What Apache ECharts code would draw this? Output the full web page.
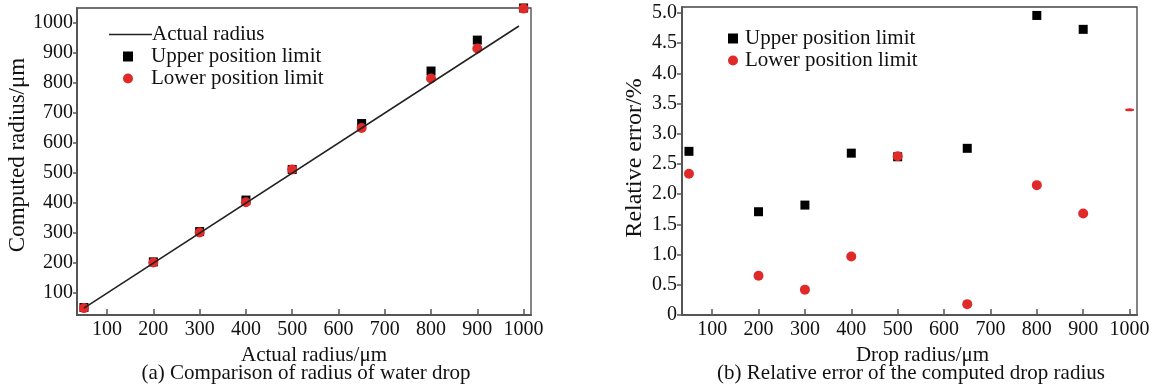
<!DOCTYPE html>
<html><head><meta charset="utf-8">
<script src="https://cdn.jsdelivr.net/npm/echarts@6/dist/echarts.min.js"></script>
<style>html,body{margin:0;padding:0;background:#fff}#c{width:1158px;height:387px}</style>
</head><body><div id="c"></div>
<script>
// ---- data ----
const radii = [50, 200, 300, 400, 500, 650, 800, 900, 1000];
const computedUpper = [52, 204, 305, 410, 512, 665, 840, 943, 1050];
const computedLower = [50, 202, 302, 403, 512, 650, 815, 915, 1048];
const actualLine = [[50, 50], [990, 990]];
const errUpper = [2.71, 1.71, 1.82, 2.68, 2.62, 2.76, 4.96, 4.73, null];
const errLower = [2.34, 0.65, 0.42, 0.97, 2.63, 0.18, 2.15, 1.68, 3.4];
const xTicks = [100, 200, 300, 400, 500, 600, 700, 800, 900, 1000];
const yTicksA = [100, 200, 300, 400, 500, 600, 700, 800, 900, 1000];
const yTicksB = [0, 0.5, 1.0, 1.5, 2.0, 2.5, 3.0, 3.5, 4.0, 4.5, 5.0];
const titleA = '(a) Comparison of radius of water drop';
const titleB = '(b) Relative error of the computed drop radius';

const FONT = 'Liberation Serif';
const RED = '#e02a2a';
const pairs = (xs, ys) => xs.map((x, i) => ys[i] == null ? null : [x, ys[i]]).filter(p => p);

const axisCommon = {
  type: 'value', splitLine: {show: false},
  axisLine: {show: true, lineStyle: {color: '#555', width: 2}},
  axisLabel: {color: '#111', fontFamily: FONT, fontSize: 20, formatter: v => String(v)},
  nameTextStyle: {color: '#111', fontFamily: FONT, fontSize: 21},
};
function xAxis(idx, name, pad) {
  return Object.assign({}, axisCommon, {
    gridIndex: idx, min: 35, max: 1016, name: name, nameLocation: 'middle', nameGap: 20,
    nameTextStyle: Object.assign({}, axisCommon.nameTextStyle, {padding: [0, 0, 0, pad]}),
    axisTick: {show: true, inside: true, length: 6, customValues: xTicks, lineStyle: {color: '#555', width: 1.5}},
    axisLabel: Object.assign({}, axisCommon.axisLabel, {customValues: xTicks, margin: 5}),
  });
}
const chart = echarts.init(document.getElementById('c'), null, {renderer: 'canvas'});
const legendText = {fontFamily: FONT, fontSize: 21, color: '#111'};
chart.setOption({
  backgroundColor: '#fff',
  animation: false,
  title: [
    {text: titleA, left: 301, top: 358, textAlign: 'center', textStyle: {fontFamily: FONT, fontSize: 21, fontWeight: 'normal', color: '#111'}},
    {text: titleB, left: 906, top: 358, textAlign: 'center', textStyle: {fontFamily: FONT, fontSize: 21, fontWeight: 'normal', color: '#111'}},
  ],
  grid: [
    {left: 77, right: 627, top: 8, bottom: 72, show: true, borderColor: '#444', borderWidth: 1.3},
    {left: 682, right: 21, top: 7, bottom: 72, show: true, borderColor: '#444', borderWidth: 1.3},
  ],
  xAxis: [xAxis(0, 'Actual radius/\u03bcm', 20), xAxis(1, 'Drop radius/\u03bcm', 26)],
  yAxis: [
    Object.assign({}, axisCommon, {
      gridIndex: 0, min: 27, max: 1050, name: 'Computed radius/\u03bcm', nameLocation: 'middle', nameGap: 46,
      nameTextStyle: Object.assign({}, axisCommon.nameTextStyle, {fontSize: 23, padding: [0, 0, 0, 13]}),
      axisTick: {show: true, inside: false, length: 4, customValues: yTicksA, lineStyle: {color: '#555', width: 1.5}},
      axisLabel: Object.assign({}, axisCommon.axisLabel, {customValues: yTicksA, margin: 4}),
    }),
    Object.assign({}, axisCommon, {
      gridIndex: 1, min: 0, max: 5.1, name: 'Relative error/%', nameLocation: 'middle', nameGap: 35,
      nameTextStyle: Object.assign({}, axisCommon.nameTextStyle, {fontSize: 24, padding: [0, 0, 0, 6]}),
      axisTick: {show: true, inside: false, length: 5, customValues: yTicksB, lineStyle: {color: '#555', width: 1.5}},
      axisLabel: Object.assign({}, axisCommon.axisLabel, {customValues: yTicksB, margin: 5,
        formatter: v => v === 0 ? '0' : v.toFixed(1)}),
    }),
  ],
  legend: [
    {left: 104, top: 19, orient: 'vertical', itemWidth: 43, itemHeight: 10, itemGap: 1,
     textStyle: Object.assign({}, legendText, {padding: [0, 0, 0, -5]}),
     data: [{name: 'Actual radius', icon: 'path://M0,0H43V1.6H0Z'}]},
    {left: 118, top: 41, orient: 'vertical', itemWidth: 10, itemHeight: 10, itemGap: 1,
     textStyle: Object.assign({}, legendText, {padding: [0, 0, 0, 13]}),
     data: [{name: 'Upper position limit', icon: 'rect'}, {name: 'Lower position limit', icon: 'circle'}]},
    {left: 723, top: 23, orient: 'vertical', itemWidth: 10, itemHeight: 10, itemGap: 1,
     textStyle: Object.assign({}, legendText, {padding: [0, 0, 0, 2]}),
     data: [{name: 'Upper position limit ', icon: 'rect'}, {name: 'Lower position limit ', icon: 'circle'}]},
  ],
  series: [
    {name: 'Actual radius', type: 'line', xAxisIndex: 0, yAxisIndex: 0, data: actualLine,
     symbol: 'none', lineStyle: {color: '#222', width: 1.6}, itemStyle: {color: '#222'}},
    {name: 'Upper position limit', type: 'scatter', xAxisIndex: 0, yAxisIndex: 0, data: pairs(radii, computedUpper),
     symbol: 'rect', symbolSize: 9, itemStyle: {color: '#000', opacity: 1}},
    {name: 'Lower position limit', type: 'scatter', xAxisIndex: 0, yAxisIndex: 0, data: pairs(radii, computedLower),
     symbol: 'circle', symbolSize: 10, itemStyle: {color: RED, opacity: 1}},
    {name: 'Upper position limit ', type: 'scatter', xAxisIndex: 1, yAxisIndex: 1, data: pairs(radii, errUpper),
     symbol: 'rect', symbolSize: 9, itemStyle: {color: '#000', opacity: 1}},
    {name: 'Lower position limit ', type: 'scatter', xAxisIndex: 1, yAxisIndex: 1,
     data: pairs(radii, errLower).map(p => p[0] === 1000 ? {value: p, symbolSize: [9, 3]} : p),
     symbol: 'circle', symbolSize: 10, itemStyle: {color: RED, opacity: 1}},
  ],
});
</script></body></html>
